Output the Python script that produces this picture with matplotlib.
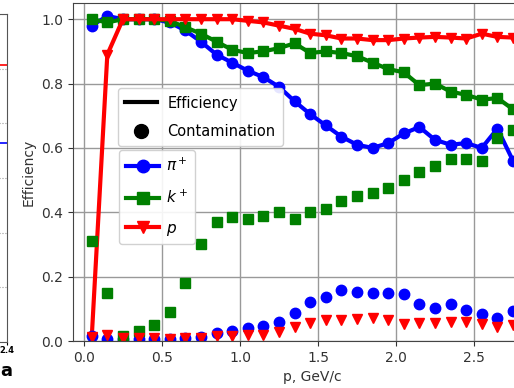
import numpy as np
import matplotlib.pyplot as plt
from matplotlib.lines import Line2D

# momentum bins (GeV/c)
p = [0.05, 0.15, 0.25, 0.35, 0.45, 0.55, 0.65, 0.75, 0.85, 0.95,
     1.05, 1.15, 1.25, 1.35, 1.45, 1.55, 1.65, 1.75, 1.85, 1.95,
     2.05, 2.15, 2.25, 2.35, 2.45, 2.55, 2.65, 2.75]

# efficiency
eff_pi = [0.98, 1.01, 1.00, 1.00, 1.00, 0.99, 0.965, 0.93, 0.89, 0.865,
          0.84, 0.82, 0.79, 0.745, 0.705, 0.67, 0.635, 0.61, 0.60, 0.615,
          0.645, 0.665, 0.625, 0.61, 0.615, 0.60, 0.66, 0.56]
eff_k = [1.00, 0.99, 1.00, 1.00, 1.00, 0.995, 0.975, 0.955, 0.93, 0.905,
         0.895, 0.90, 0.91, 0.925, 0.895, 0.90, 0.895, 0.885, 0.865, 0.845,
         0.835, 0.795, 0.80, 0.775, 0.765, 0.75, 0.755, 0.72]
eff_p = [0.01, 0.89, 1.00, 1.00, 1.00, 1.00, 1.00, 1.00, 1.00, 1.00,
         0.995, 0.99, 0.98, 0.97, 0.955, 0.95, 0.94, 0.94, 0.935, 0.935,
         0.94, 0.943, 0.945, 0.943, 0.94, 0.955, 0.945, 0.943]

# contamination
con_pi = [0.015, 0.005, 0.005, 0.005, 0.005, 0.005, 0.01, 0.013, 0.026, 0.031,
          0.04, 0.047, 0.059, 0.087, 0.122, 0.137, 0.158, 0.153, 0.148, 0.148,
          0.147, 0.114, 0.104, 0.116, 0.096, 0.084, 0.072, 0.093]
con_k = [0.31, 0.15, 0.015, 0.03, 0.05, 0.09, 0.18, 0.30, 0.37, 0.385,
         0.38, 0.39, 0.40, 0.38, 0.40, 0.41, 0.435, 0.45, 0.46, 0.475,
         0.50, 0.525, 0.545, 0.565, 0.565, 0.56, 0.63, 0.655]
con_p = [0.012, 0.02, 0.008, 0.008, 0.008, 0.006, 0.01, 0.01, 0.016, 0.016,
         0.02, 0.02, 0.028, 0.044, 0.057, 0.064, 0.064, 0.07, 0.073, 0.064,
         0.054, 0.057, 0.057, 0.06, 0.06, 0.052, 0.044, 0.05]

# neighbouring panel (only its edge is visible)
left_red = 5.06
left_blue = 3.64

fig = plt.figure(figsize=(5.14, 3.88), dpi=100)

# --- cut-off neighbouring panel on the left ---
axl = fig.add_axes([-0.3, 0.1186, 0.3136, 0.8454])
axl.set_xlim(0, 2.4)
axl.set_ylim(0, 6)
axl.plot([0, 2.4], [left_red, left_red], color='red', lw=1.2)
axl.plot([0, 2.4], [left_blue, left_blue], color='blue', lw=1.2)
axl.set_yticks(range(7))
axl.set_yticklabels([])
axl.tick_params(axis='y', length=0)
axl.grid(axis='y', ls=':', color='#999999', lw=0.8)
axl.set_xticks([2.4])
axl.set_xticklabels(['2.4'], fontsize=6, fontweight='bold')
axl.tick_params(axis='x', length=2, pad=1)
for s in axl.spines.values():
    s.set_color('#555555')
fig.text(0.0, 0.02, 'a', fontsize=13, fontweight='bold', ha='left', va='bottom')

# --- main panel ---
ax = fig.add_axes([0.142, 0.121, 0.932, 0.871])

ms = 7.5
ax.plot(p, eff_pi, color='blue', marker='o', ms=ms, lw=3)
ax.plot(p, eff_k, color='green', marker='s', ms=ms, lw=3)
ax.plot(p, eff_p, color='red', marker='v', ms=ms, lw=3)

ax.plot(p, con_pi, color='blue', marker='o', ms=ms, ls='none')
ax.plot(p, con_k, color='green', marker='s', ms=ms, ls='none')
ax.plot(p, con_p, color='red', marker='v', ms=ms, ls='none')

ax.set_xlim(-0.07, 3.0)
ax.set_ylim(0, 1.05)
ax.set_xticks([0.0, 0.5, 1.0, 1.5, 2.0, 2.5])
ax.set_yticks([0.0, 0.2, 0.4, 0.6, 0.8, 1.0])
ax.tick_params(labelsize=10, colors='#333333')
ax.grid(True, color='#999999', lw=1)
ax.set_axisbelow(True)
for s in ax.spines.values():
    s.set_color('#444444')
ax.set_xlabel('p, GeV/c', fontsize=10, color='#333333', labelpad=4)
ax.set_ylabel('Efficiency', fontsize=10, color='#333333')

type_handles = [Line2D([], [], color='black', lw=3),
                Line2D([], [], color='black', marker='o', ms=10, ls='none')]
leg1 = ax.legend(type_handles, ['Efficiency', 'Contamination'],
                 loc='upper left', bbox_to_anchor=(0.094, 0.748),
                 borderaxespad=0, fontsize=10.5, framealpha=0.9,
                 edgecolor='#cccccc', borderpad=0.5, labelspacing=0.9,
                 handlelength=2.2, handletextpad=0.7)
ax.add_artist(leg1)

part_handles = [Line2D([], [], color='blue', marker='o', ms=9, lw=3),
                Line2D([], [], color='green', marker='s', ms=9, lw=3),
                Line2D([], [], color='red', marker='v', ms=9, lw=3)]
ax.legend(part_handles, [r'$\pi^+$', r'$k^+$', r'$p$'],
          loc='upper left', bbox_to_anchor=(0.096, 0.565),
          borderaxespad=0, fontsize=11, framealpha=0.9, edgecolor='#cccccc',
          borderpad=0.45, handlelength=2.2, handletextpad=0.45,
          labelspacing=0.95)

fig.savefig('out.png', dpi=100)
